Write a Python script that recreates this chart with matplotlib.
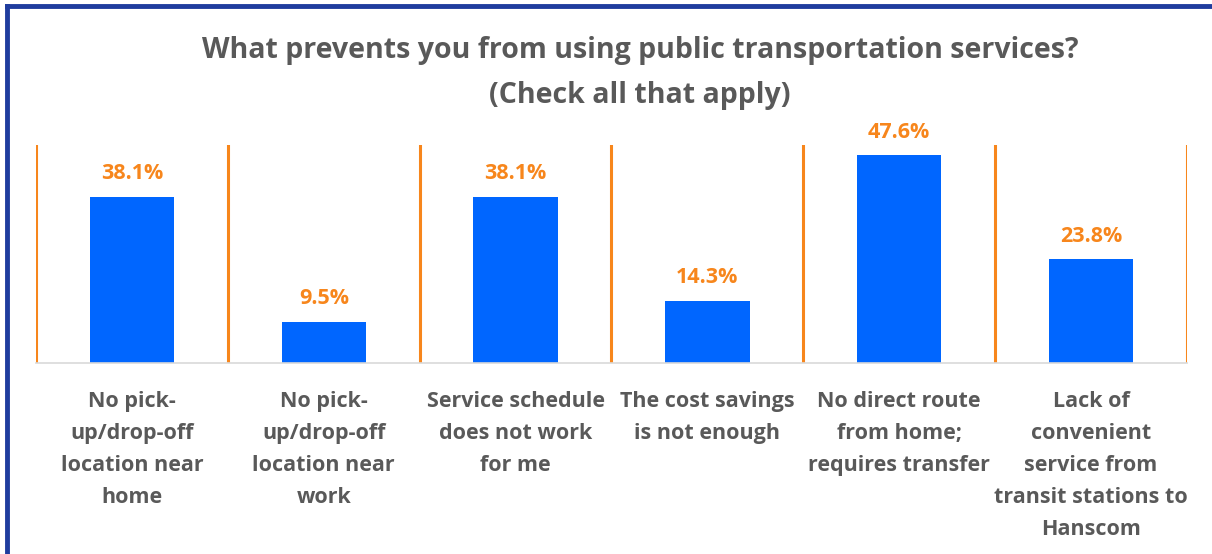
import matplotlib.pyplot as plt
import numpy as np
from matplotlib.lines import Line2D

categories = ['No pick-\nup/drop-off\nlocation near\nhome',
              'No pick-\nup/drop-off\nlocation near\nwork',
              'Service schedule\ndoes not work\nfor me',
              'The cost savings\nis not enough',
              'No direct route\nfrom home;\nrequires transfer',
              'Lack of\nconvenient\nservice from\ntransit stations to\nHanscom']
values = [38.1, 9.5, 38.1, 14.3, 47.6, 23.8]

plt.rcParams['font.family'] = ['Open Sans', 'DejaVu Sans']
gray = '#595959'
orange = '#F7861C'
blue = '#0066FF'

fig = plt.figure(figsize=(12.12, 5.54), dpi=100)
ax = fig.add_axes([36 / 1212, 1 - 363 / 554, (1187 - 36) / 1212, (363 - 145) / 554])

x = np.arange(len(values))
ax.bar(x, values, width=0.44, color=blue, zorder=2)
for xi, v in zip(x, values):
    ax.annotate(f'{v:.1f}%', (xi, v), xytext=(0, 9), textcoords='offset points',
                ha='center', va='bottom', fontsize=15.5, fontweight='bold', color=orange)

for b in np.arange(len(values) + 1) - 0.5:
    ax.axvline(b, color=orange, lw=2.2, zorder=1)

ax.set_xlim(-0.5, len(values) - 0.5)
ax.set_ylim(0, 50)
ax.set_yticks([])
ax.set_xticks([])
for s in ['top', 'left', 'right']:
    ax.spines[s].set_visible(False)
ax.spines['bottom'].set_color('#D9D9D9')
ax.spines['bottom'].set_linewidth(1.2)

for xi, c in zip(x, categories):
    ax.annotate(c, (xi, 0), xytext=(0, -20), textcoords='offset points',
                ha='center', va='top', fontsize=15.5, fontweight='bold',
                color=gray, linespacing=1.69)

fig.text(640 / 1212, 1 - 73 / 554,
         'What prevents you from using public transportation services?\n(Check all that apply)',
         ha='center', va='center', fontsize=20.5, fontweight='bold', color=gray, linespacing=1.75)

# frame around the chart (left and top edges)
fig.add_artist(Line2D([7 / 1212, 7 / 1212], [0, 1 - 5.5 / 554], color='#1F3C9E', lw=3.5))
fig.add_artist(Line2D([7 / 1212, 1], [1 - 5.5 / 554, 1 - 5.5 / 554], color='#1F3C9E', lw=3.5))

fig.savefig('out.png', dpi=100)
